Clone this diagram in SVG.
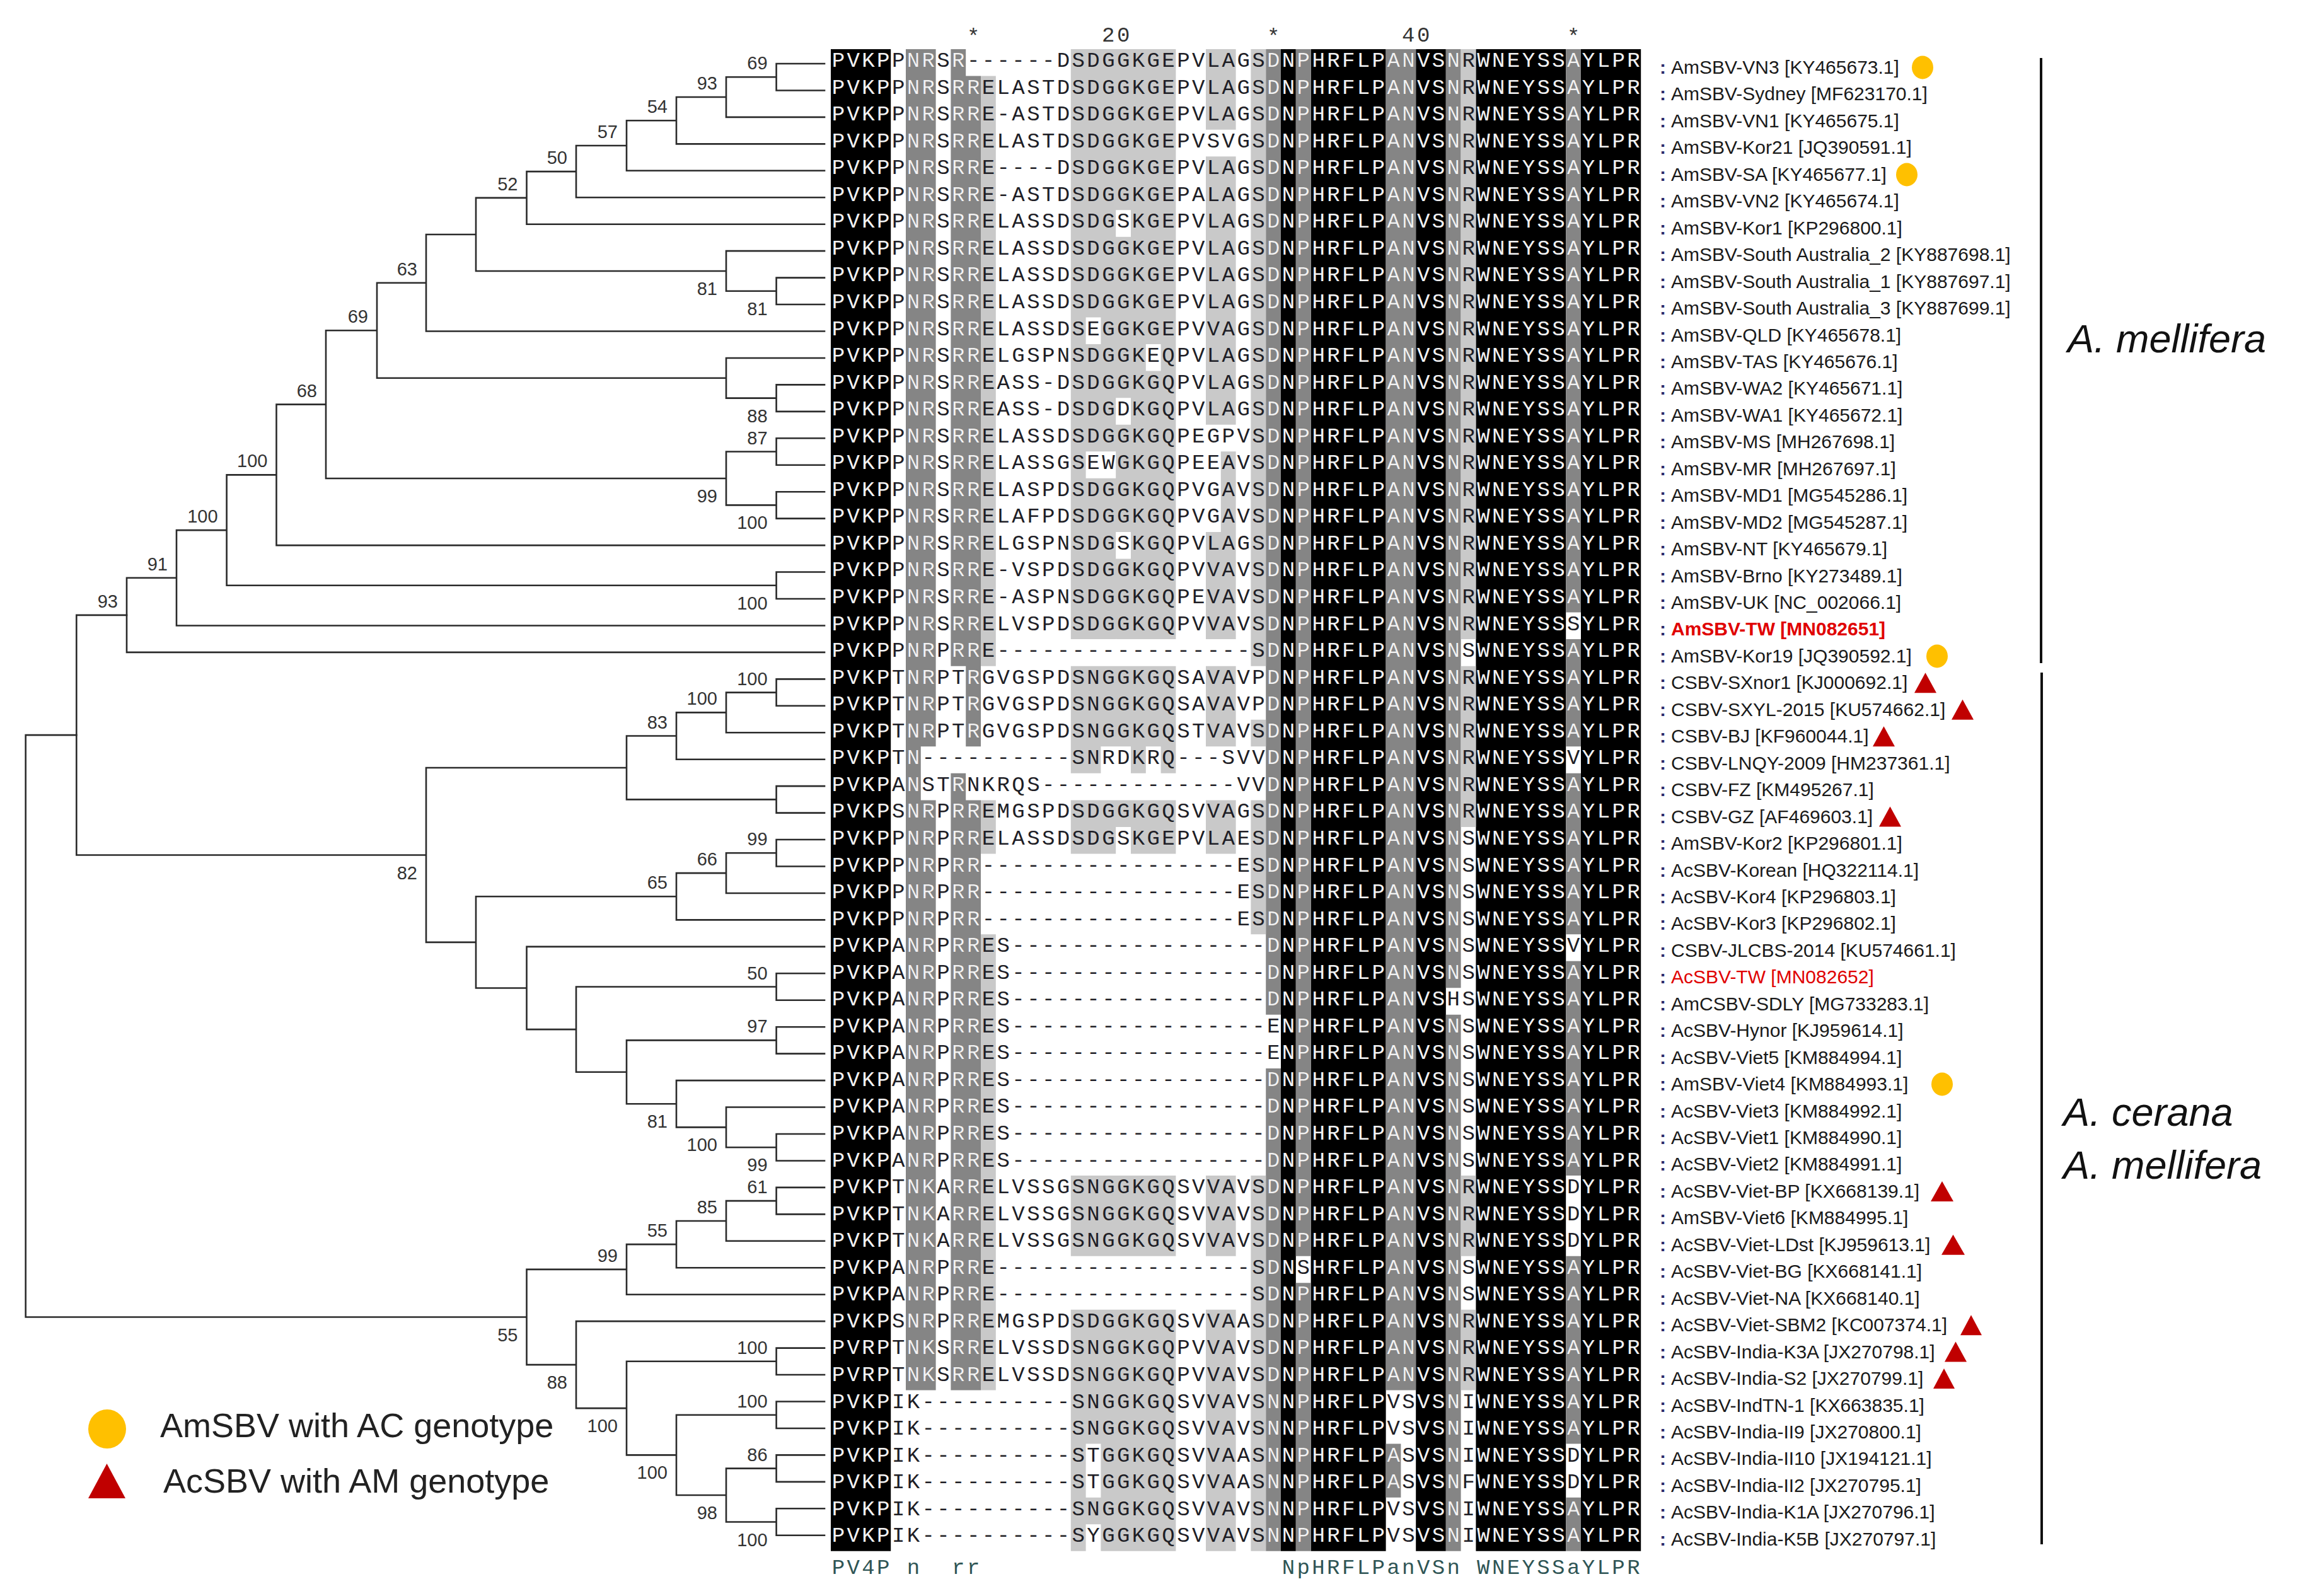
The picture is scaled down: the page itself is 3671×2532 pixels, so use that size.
<svg xmlns="http://www.w3.org/2000/svg" xmlns:xlink="http://www.w3.org/1999/xlink" width="3671" height="2532" viewBox="0 0 3671 2532">
<style>
.tr{fill:none;stroke:#2b2b2b;stroke-width:2.6;stroke-linecap:square}
.bs{font-family:"Liberation Sans",Arial,sans-serif;font-size:29px;fill:#333;text-anchor:end}
.lb{font-family:"Liberation Sans",Arial,sans-serif;font-size:30px;fill:#1a1a1a}
.cl{fill:#2c2f6b;font-weight:bold}
.red{fill:#e00000}
.bd{font-weight:bold}
.sq{font-family:"Liberation Mono","Courier New",monospace;font-size:34px;letter-spacing:3.4px}
.hd{font-family:"Liberation Mono","Courier New",monospace;font-size:34px;letter-spacing:3.4px;fill:#333}
.cs{font-family:"Liberation Mono","Courier New",monospace;font-size:34px;letter-spacing:3.4px;fill:#2f5555}
.sp{font-family:"Liberation Sans",Arial,sans-serif;font-size:63px;font-style:italic;fill:#111}
.lg{font-family:"Liberation Sans",Arial,sans-serif;font-size:54px;fill:#222}
.ci{fill:#FFC000}
.tri{fill:#C00000}
.bar{stroke:#111;stroke-width:4}
</style>
<defs>
<path id="blk" transform="matrix(23.8 0 0 42.55 1318 78)" d="M0 0h4v56h-4z M30 0h1v56h-1z M32 0h5v56h-5z M39 0h2v56h-2z M43 0h6v56h-6z M50 0h4v56h-4z"/>
<path id="dg" transform="matrix(23.8 0 0 42.55 1318 78)" d="M5 0h1v50h-1z M6 0h1v26h-1z M6 28h1v22h-1z M8 0h1v23h-1z M8 27h1v23h-1z M9 1h1v25h-1z M9 28h1v22h-1z M29 0h1v36h-1z M29 38h1v18h-1z M31 0h1v45h-1z M31 46h1v10h-1z M37 0h1v50h-1z M37 52h1v2h-1z M38 0h1v50h-1z M41 0h1v35h-1z M41 36h1v20h-1z M49 0h1v21h-1z M49 22h1v4h-1z M49 27h1v6h-1z M49 34h1v8h-1z M49 45h1v7h-1z M49 54h1v2h-1z"/>
<path id="lgp" transform="matrix(23.8 0 0 42.55 1318 78)" d="M10 1h1v22h-1z M10 28h1v2h-1z M10 33h1v17h-1z M16 0h1v22h-1z M16 23h1v4h-1z M16 28h1v2h-1z M16 42h1v3h-1z M16 47h1v9h-1z M17 0h1v10h-1z M17 11h1v4h-1z M17 16h1v6h-1z M17 23h1v4h-1z M17 28h1v2h-1z M17 42h1v3h-1z M17 47h1v5h-1z M17 54h1v1h-1z M18 0h1v15h-1z M18 16h1v6h-1z M18 23h1v3h-1z M18 28h1v2h-1z M18 42h1v3h-1z M18 47h1v9h-1z M19 0h1v6h-1z M19 7h1v6h-1z M19 14h1v4h-1z M19 19h1v3h-1z M19 23h1v3h-1z M19 28h1v1h-1z M19 42h1v3h-1z M19 47h1v9h-1z M20 0h1v22h-1z M20 23h1v4h-1z M20 28h1v2h-1z M20 42h1v3h-1z M20 47h1v9h-1z M21 0h1v11h-1z M21 12h1v10h-1z M21 23h1v3h-1z M21 28h1v2h-1z M21 42h1v3h-1z M21 47h1v9h-1z M22 0h1v22h-1z M22 23h1v4h-1z M22 28h1v2h-1z M22 42h1v3h-1z M22 47h1v9h-1z M25 0h1v3h-1z M25 4h1v10h-1z M25 18h1v4h-1z M25 23h1v3h-1z M25 28h1v2h-1z M25 42h1v3h-1z M25 47h1v9h-1z M26 0h1v3h-1z M26 4h1v10h-1z M26 15h1v7h-1z M26 23h1v3h-1z M26 28h1v2h-1z M26 42h1v3h-1z M26 47h1v9h-1z M28 0h1v23h-1z M28 25h1v1h-1z M28 28h1v5h-1z M28 42h1v14h-1z M42 0h1v22h-1z M42 23h1v6h-1z M42 42h1v3h-1z M42 47h1v3h-1z"/>
<clipPath id="dk"><use href="#blk"/><use href="#dg"/></clipPath>
<g id="seq" class="sq">
<text x="1319.7" y="106">PVKPPNRSR------DSDGGKGEPVLAGSDNPHRFLPANVSNRWNEYSSAYLPR</text>
<text x="1319.7" y="148.55">PVKPPNRSRRELASTDSDGGKGEPVLAGSDNPHRFLPANVSNRWNEYSSAYLPR</text>
<text x="1319.7" y="191.1">PVKPPNRSRRE-ASTDSDGGKGEPVLAGSDNPHRFLPANVSNRWNEYSSAYLPR</text>
<text x="1319.7" y="233.65">PVKPPNRSRRELASTDSDGGKGEPVSVGSDNPHRFLPANVSNRWNEYSSAYLPR</text>
<text x="1319.7" y="276.2">PVKPPNRSRRE----DSDGGKGEPVLAGSDNPHRFLPANVSNRWNEYSSAYLPR</text>
<text x="1319.7" y="318.75">PVKPPNRSRRE-ASTDSDGGKGEPALAGSDNPHRFLPANVSNRWNEYSSAYLPR</text>
<text x="1319.7" y="361.3">PVKPPNRSRRELASSDSDGSKGEPVLAGSDNPHRFLPANVSNRWNEYSSAYLPR</text>
<text x="1319.7" y="403.85">PVKPPNRSRRELASSDSDGGKGEPVLAGSDNPHRFLPANVSNRWNEYSSAYLPR</text>
<text x="1319.7" y="446.4">PVKPPNRSRRELASSDSDGGKGEPVLAGSDNPHRFLPANVSNRWNEYSSAYLPR</text>
<text x="1319.7" y="488.95">PVKPPNRSRRELASSDSDGGKGEPVLAGSDNPHRFLPANVSNRWNEYSSAYLPR</text>
<text x="1319.7" y="531.5">PVKPPNRSRRELASSDSEGGKGEPVVAGSDNPHRFLPANVSNRWNEYSSAYLPR</text>
<text x="1319.7" y="574.05">PVKPPNRSRRELGSPNSDGGKEQPVLAGSDNPHRFLPANVSNRWNEYSSAYLPR</text>
<text x="1319.7" y="616.6">PVKPPNRSRREASS-DSDGGKGQPVLAGSDNPHRFLPANVSNRWNEYSSAYLPR</text>
<text x="1319.7" y="659.15">PVKPPNRSRREASS-DSDGDKGQPVLAGSDNPHRFLPANVSNRWNEYSSAYLPR</text>
<text x="1319.7" y="701.7">PVKPPNRSRRELASSDSDGGKGQPEGPVSDNPHRFLPANVSNRWNEYSSAYLPR</text>
<text x="1319.7" y="744.25">PVKPPNRSRRELASSGSEWGKGQPEEAVSDNPHRFLPANVSNRWNEYSSAYLPR</text>
<text x="1319.7" y="786.8">PVKPPNRSRRELASPDSDGGKGQPVGAVSDNPHRFLPANVSNRWNEYSSAYLPR</text>
<text x="1319.7" y="829.35">PVKPPNRSRRELAFPDSDGGKGQPVGAVSDNPHRFLPANVSNRWNEYSSAYLPR</text>
<text x="1319.7" y="871.9">PVKPPNRSRRELGSPNSDGSKGQPVLAGSDNPHRFLPANVSNRWNEYSSAYLPR</text>
<text x="1319.7" y="914.45">PVKPPNRSRRE-VSPDSDGGKGQPVVAVSDNPHRFLPANVSNRWNEYSSAYLPR</text>
<text x="1319.7" y="957">PVKPPNRSRRE-ASPNSDGGKGQPEVAVSDNPHRFLPANVSNRWNEYSSAYLPR</text>
<text x="1319.7" y="999.55">PVKPPNRSRRELVSPDSDGGKGQPVVAVSDNPHRFLPANVSNRWNEYSSSYLPR</text>
<text x="1319.7" y="1042.1">PVKPPNRPRRE-----------------SDNPHRFLPANVSNSWNEYSSAYLPR</text>
<text x="1319.7" y="1084.65">PVKPTNRPTRGVGSPDSNGGKGQSAVAVPDNPHRFLPANVSNRWNEYSSAYLPR</text>
<text x="1319.7" y="1127.2">PVKPTNRPTRGVGSPDSNGGKGQSAVAVPDNPHRFLPANVSNRWNEYSSAYLPR</text>
<text x="1319.7" y="1169.75">PVKPTNRPTRGVGSPDSNGGKGQSTVAVSDNPHRFLPANVSNRWNEYSSAYLPR</text>
<text x="1319.7" y="1212.3">PVKPTN----------SNRDKRQ---SVVDNPHRFLPANVSNRWNEYSSVYLPR</text>
<text x="1319.7" y="1254.85">PVKPANSTRNKRQS-------------VVDNPHRFLPANVSNRWNEYSSAYLPR</text>
<text x="1319.7" y="1297.4">PVKPSNRPRREMGSPDSDGGKGQSVVAGSDNPHRFLPANVSNRWNEYSSAYLPR</text>
<text x="1319.7" y="1339.95">PVKPPNRPRRELASSDSDGSKGEPVLAESDNPHRFLPANVSNSWNEYSSAYLPR</text>
<text x="1319.7" y="1382.5">PVKPPNRPRR-----------------ESDNPHRFLPANVSNSWNEYSSAYLPR</text>
<text x="1319.7" y="1425.05">PVKPPNRPRR-----------------ESDNPHRFLPANVSNSWNEYSSAYLPR</text>
<text x="1319.7" y="1467.6">PVKPPNRPRR-----------------ESDNPHRFLPANVSNSWNEYSSAYLPR</text>
<text x="1319.7" y="1510.15">PVKPANRPRRES-----------------DNPHRFLPANVSNSWNEYSSVYLPR</text>
<text x="1319.7" y="1552.7">PVKPANRPRRES-----------------DNPHRFLPANVSNSWNEYSSAYLPR</text>
<text x="1319.7" y="1595.25">PVKPANRPRRES-----------------DNPHRFLPANVSHSWNEYSSAYLPR</text>
<text x="1319.7" y="1637.8">PVKPANRPRRES-----------------ENPHRFLPANVSNSWNEYSSAYLPR</text>
<text x="1319.7" y="1680.35">PVKPANRPRRES-----------------ENPHRFLPANVSNSWNEYSSAYLPR</text>
<text x="1319.7" y="1722.9">PVKPANRPRRES-----------------DNPHRFLPANVSNSWNEYSSAYLPR</text>
<text x="1319.7" y="1765.45">PVKPANRPRRES-----------------DNPHRFLPANVSNSWNEYSSAYLPR</text>
<text x="1319.7" y="1808">PVKPANRPRRES-----------------DNPHRFLPANVSNSWNEYSSAYLPR</text>
<text x="1319.7" y="1850.55">PVKPANRPRRES-----------------DNPHRFLPANVSNSWNEYSSAYLPR</text>
<text x="1319.7" y="1893.1">PVKPTNKARRELVSSGSNGGKGQSVVAVSDNPHRFLPANVSNRWNEYSSDYLPR</text>
<text x="1319.7" y="1935.65">PVKPTNKARRELVSSGSNGGKGQSVVAVSDNPHRFLPANVSNRWNEYSSDYLPR</text>
<text x="1319.7" y="1978.2">PVKPTNKARRELVSSGSNGGKGQSVVAVSDNPHRFLPANVSNRWNEYSSDYLPR</text>
<text x="1319.7" y="2020.75">PVKPANRPRRE-----------------SDNSHRFLPANVSNSWNEYSSAYLPR</text>
<text x="1319.7" y="2063.3">PVKPANRPRRE-----------------SDNPHRFLPANVSNSWNEYSSAYLPR</text>
<text x="1319.7" y="2105.85">PVKPSNRPRREMGSPDSDGGKGQSVVAASDNPHRFLPANVSNRWNEYSSAYLPR</text>
<text x="1319.7" y="2148.4">PVRPTNKSRRELVSSDSNGGKGQPVVAVSDNPHRFLPANVSNRWNEYSSAYLPR</text>
<text x="1319.7" y="2190.95">PVRPTNKSRRELVSSDSNGGKGQPVVAVSDNPHRFLPANVSNRWNEYSSAYLPR</text>
<text x="1319.7" y="2233.5">PVKPIK----------SNGGKGQSVVAVSNNPHRFLPVSVSNIWNEYSSAYLPR</text>
<text x="1319.7" y="2276.05">PVKPIK----------SNGGKGQSVVAVSNNPHRFLPVSVSNIWNEYSSAYLPR</text>
<text x="1319.7" y="2318.6">PVKPIK----------STGGKGQSVVAASNNPHRFLPASVSNIWNEYSSDYLPR</text>
<text x="1319.7" y="2361.15">PVKPIK----------STGGKGQSVVAASNNPHRFLPASVSNFWNEYSSDYLPR</text>
<text x="1319.7" y="2403.7">PVKPIK----------SNGGKGQSVVAVSNNPHRFLPVSVSNIWNEYSSAYLPR</text>
<text x="1319.7" y="2446.25">PVKPIK----------SYGGKGQSVVAVSNNPHRFLPVSVSNIWNEYSSAYLPR</text>
</g>
</defs>
<rect width="3671" height="2532" fill="#fff"/>

<g id="alignment">
<use href="#blk" fill="#000"/>
<use href="#dg" fill="#858585"/>
<use href="#lgp" fill="#c9c9c9"/>
<use href="#seq" fill="#1e1e26"/>
<use href="#seq" fill="#f2f2f2" clip-path="url(#dk)"/>
<g id="ruler">
<text class="hd" x="1533.9" y="68">*</text>
<text class="hd" x="1748.1" y="66">20</text>
<text class="hd" x="2009.9" y="68">*</text>
<text class="hd" x="2224.1" y="66">40</text>
<text class="hd" x="2485.9" y="68">*</text>
</g>
<g id="consensus">
<text class="cs" x="1319.7" y="2497">PV4P</text>
<text class="cs" x="1438.7" y="2497">n</text>
<text class="cs" x="1510.1" y="2497">rr</text>
<text class="cs" x="2033.7" y="2497">NpHRFLPanVSn</text>
<text class="cs" x="2343.1" y="2497">WNEYSSaYLPR</text>
</g>
</g>

<g id="connectors">
<path class="tr" d="M1308 101H1231.6V143.45H1308 M1231.6 122.2H1152V185.9H1308 M1152 154.05H1073V228.35H1308 M1073 191.2H994V270.8H1308 M994 231H914V313.25H1308 M914 272.1H835.5V355.7H1308 M1308 440.6H1231.6V483.05H1308 M1308 398.15H1152V461.8H1231.6 M835.5 313.9H755V430H1152 M755 371.95H676V525.5H1308 M1308 610.4H1231.6V652.85H1308 M1308 567.95H1152V631.6H1231.6 M676 448.7H598V599.8H1152 M1308 695.3H1231.6V737.75H1308 M1308 780.2H1231.6V822.65H1308 M1231.6 716.5H1152V801.4H1231.6 M598 524.25H517V758.95H1152 M517 641.6H438.5V865.1H1308 M1308 907.55H1231.6V950H1308 M438.5 753.35H359.6V928.8H1231.6 M359.6 841.1H280V992.45H1308 M280 916.8H201V1034.9H1308"/>
<path class="tr" d="M1308 1077.35H1231.6V1119.8H1308 M1231.6 1098.6H1152V1162.25H1308 M1152 1130.4H1073V1204.7H1308 M1308 1247.15H1231.6V1289.6H1308 M1073 1167.55H994V1268.4H1231.6 M1308 1332.05H1231.6V1374.5H1308 M1231.6 1353.3H1152V1416.95H1308 M1152 1385.1H1073V1459.4H1308 M1308 1544.3H1231.6V1586.75H1308 M1308 1629.2H1231.6V1671.65H1308 M1308 1799H1231.6V1841.45H1308 M1308 1756.55H1152V1820.2H1231.6 M1308 1714.1H1073V1788.4H1152 M1231.6 1650.4H994V1751.25H1073 M1231.6 1565.5H914V1700.8H994 M1308 1501.85H835.5V1633.15H914 M1073 1422.25H755V1567.5H835.5 M994 1218H676V1494.9H755 M201 975.85H121.3V1356.45H676"/>
<path class="tr" d="M1308 1883.9H1231.6V1926.35H1308 M1231.6 1905.1H1152V1968.8H1308 M1152 1936.95H1073V2011.25H1308 M1073 1974.1H994V2053.7H1308 M1308 2138.6H1231.6V2181.05H1308 M1308 2223.5H1231.6V2265.95H1308 M1308 2308.4H1231.6V2350.85H1308 M1308 2393.3H1231.6V2435.75H1308 M1231.6 2329.6H1152V2414.5H1231.6 M1231.6 2244.7H1073V2372.05H1152 M1231.6 2159.8H994V2308.4H1073 M1308 2096.15H914V2234.1H994 M994 2013.9H835.5V2165.1H914 M121.3 1166.15H40.7V2089.5H835.5"/>
</g>

<g id="bootstrap">
<text class="bs" x="1217.6" y="110.2">69</text>
<text class="bs" x="1138" y="142">93</text>
<text class="bs" x="1059" y="179.2">54</text>
<text class="bs" x="980" y="219">57</text>
<text class="bs" x="900" y="260.1">50</text>
<text class="bs" x="821.5" y="301.9">52</text>
<text class="bs" x="1138" y="468">81</text>
<text class="bs" x="1217.6" y="500">81</text>
<text class="bs" x="662" y="436.7">63</text>
<text class="bs" x="1217.6" y="669.6">88</text>
<text class="bs" x="584" y="512.3">69</text>
<text class="bs" x="1217.6" y="704.5">87</text>
<text class="bs" x="1138" y="797">99</text>
<text class="bs" x="1217.6" y="839.4">100</text>
<text class="bs" x="503" y="629.6">68</text>
<text class="bs" x="424.5" y="741.4">100</text>
<text class="bs" x="345.6" y="829.1">100</text>
<text class="bs" x="1217.6" y="966.8">100</text>
<text class="bs" x="266" y="904.8">91</text>
<text class="bs" x="187" y="963.9">93</text>
<text class="bs" x="1217.6" y="1086.6">100</text>
<text class="bs" x="1138" y="1118.4">100</text>
<text class="bs" x="1059" y="1155.6">83</text>
<text class="bs" x="662" y="1394.5">82</text>
<text class="bs" x="1217.6" y="1341.3">99</text>
<text class="bs" x="1138" y="1373.1">66</text>
<text class="bs" x="1059" y="1410.3">65</text>
<text class="bs" x="1217.6" y="1553.5">50</text>
<text class="bs" x="1217.6" y="1638.4">97</text>
<text class="bs" x="1059" y="1789.3">81</text>
<text class="bs" x="1138" y="1826.4">100</text>
<text class="bs" x="1217.6" y="1858.2">99</text>
<text class="bs" x="1217.6" y="1893.1">61</text>
<text class="bs" x="1138" y="1925">85</text>
<text class="bs" x="1059" y="1962.1">55</text>
<text class="bs" x="980" y="2001.9">99</text>
<text class="bs" x="821.5" y="2127.5">55</text>
<text class="bs" x="900" y="2203.1">88</text>
<text class="bs" x="1217.6" y="2147.8">100</text>
<text class="bs" x="980" y="2272.1">100</text>
<text class="bs" x="1217.6" y="2232.7">100</text>
<text class="bs" x="1059" y="2346.4">100</text>
<text class="bs" x="1217.6" y="2317.6">86</text>
<text class="bs" x="1138" y="2410">98</text>
<text class="bs" x="1217.6" y="2452.5">100</text>
</g>

<g id="labels" class="lb">
<text id="t1" x="2633" y="117"><tspan class="cl">:</tspan><tspan x="2651">AmSBV-VN3 [KY465673.1]</tspan></text>
<text id="t2" x="2633" y="159.45"><tspan class="cl">:</tspan><tspan x="2651">AmSBV-Sydney [MF623170.1]</tspan></text>
<text id="t3" x="2633" y="201.9"><tspan class="cl">:</tspan><tspan x="2651">AmSBV-VN1 [KY465675.1]</tspan></text>
<text id="t4" x="2633" y="244.35"><tspan class="cl">:</tspan><tspan x="2651">AmSBV-Kor21 [JQ390591.1]</tspan></text>
<text id="t5" x="2633" y="286.8"><tspan class="cl">:</tspan><tspan x="2651">AmSBV-SA [KY465677.1]</tspan></text>
<text id="t6" x="2633" y="329.25"><tspan class="cl">:</tspan><tspan x="2651">AmSBV-VN2 [KY465674.1]</tspan></text>
<text id="t7" x="2633" y="371.7"><tspan class="cl">:</tspan><tspan x="2651">AmSBV-Kor1 [KP296800.1]</tspan></text>
<text id="t8" x="2633" y="414.15"><tspan class="cl">:</tspan><tspan x="2651">AmSBV-South Australia_2 [KY887698.1]</tspan></text>
<text id="t9" x="2633" y="456.6"><tspan class="cl">:</tspan><tspan x="2651">AmSBV-South Australia_1 [KY887697.1]</tspan></text>
<text id="t10" x="2633" y="499.05"><tspan class="cl">:</tspan><tspan x="2651">AmSBV-South Australia_3 [KY887699.1]</tspan></text>
<text id="t11" x="2633" y="541.5"><tspan class="cl">:</tspan><tspan x="2651">AmSBV-QLD [KY465678.1]</tspan></text>
<text id="t12" x="2633" y="583.95"><tspan class="cl">:</tspan><tspan x="2651">AmSBV-TAS [KY465676.1]</tspan></text>
<text id="t13" x="2633" y="626.4"><tspan class="cl">:</tspan><tspan x="2651">AmSBV-WA2 [KY465671.1]</tspan></text>
<text id="t14" x="2633" y="668.85"><tspan class="cl">:</tspan><tspan x="2651">AmSBV-WA1 [KY465672.1]</tspan></text>
<text id="t15" x="2633" y="711.3"><tspan class="cl">:</tspan><tspan x="2651">AmSBV-MS [MH267698.1]</tspan></text>
<text id="t16" x="2633" y="753.75"><tspan class="cl">:</tspan><tspan x="2651">AmSBV-MR [MH267697.1]</tspan></text>
<text id="t17" x="2633" y="796.2"><tspan class="cl">:</tspan><tspan x="2651">AmSBV-MD1 [MG545286.1]</tspan></text>
<text id="t18" x="2633" y="838.65"><tspan class="cl">:</tspan><tspan x="2651">AmSBV-MD2 [MG545287.1]</tspan></text>
<text id="t19" x="2633" y="881.1"><tspan class="cl">:</tspan><tspan x="2651">AmSBV-NT [KY465679.1]</tspan></text>
<text id="t20" x="2633" y="923.55"><tspan class="cl">:</tspan><tspan x="2651">AmSBV-Brno [KY273489.1]</tspan></text>
<text id="t21" x="2633" y="966"><tspan class="cl">:</tspan><tspan x="2651">AmSBV-UK [NC_002066.1]</tspan></text>
<text id="t22" x="2633" y="1008.45"><tspan class="cl">:</tspan><tspan x="2651" class="red bd">AmSBV-TW [MN082651]</tspan></text>
<text id="t23" x="2633" y="1050.9"><tspan class="cl">:</tspan><tspan x="2651">AmSBV-Kor19 [JQ390592.1]</tspan></text>
<text id="t24" x="2633" y="1093.35"><tspan class="cl">:</tspan><tspan x="2651">CSBV-SXnor1 [KJ000692.1]</tspan></text>
<text id="t25" x="2633" y="1135.8"><tspan class="cl">:</tspan><tspan x="2651">CSBV-SXYL-2015 [KU574662.1]</tspan></text>
<text id="t26" x="2633" y="1178.25"><tspan class="cl">:</tspan><tspan x="2651">CSBV-BJ [KF960044.1]</tspan></text>
<text id="t27" x="2633" y="1220.7"><tspan class="cl">:</tspan><tspan x="2651">CSBV-LNQY-2009 [HM237361.1]</tspan></text>
<text id="t28" x="2633" y="1263.15"><tspan class="cl">:</tspan><tspan x="2651">CSBV-FZ [KM495267.1]</tspan></text>
<text id="t29" x="2633" y="1305.6"><tspan class="cl">:</tspan><tspan x="2651">CSBV-GZ [AF469603.1]</tspan></text>
<text id="t30" x="2633" y="1348.05"><tspan class="cl">:</tspan><tspan x="2651">AmSBV-Kor2 [KP296801.1]</tspan></text>
<text id="t31" x="2633" y="1390.5"><tspan class="cl">:</tspan><tspan x="2651">AcSBV-Korean [HQ322114.1]</tspan></text>
<text id="t32" x="2633" y="1432.95"><tspan class="cl">:</tspan><tspan x="2651">AcSBV-Kor4 [KP296803.1]</tspan></text>
<text id="t33" x="2633" y="1475.4"><tspan class="cl">:</tspan><tspan x="2651">AcSBV-Kor3 [KP296802.1]</tspan></text>
<text id="t34" x="2633" y="1517.85"><tspan class="cl">:</tspan><tspan x="2651">CSBV-JLCBS-2014 [KU574661.1]</tspan></text>
<text id="t35" x="2633" y="1560.3"><tspan class="cl">:</tspan><tspan x="2651" class="red">AcSBV-TW [MN082652]</tspan></text>
<text id="t36" x="2633" y="1602.75"><tspan class="cl">:</tspan><tspan x="2651">AmCSBV-SDLY [MG733283.1]</tspan></text>
<text id="t37" x="2633" y="1645.2"><tspan class="cl">:</tspan><tspan x="2651">AcSBV-Hynor [KJ959614.1]</tspan></text>
<text id="t38" x="2633" y="1687.65"><tspan class="cl">:</tspan><tspan x="2651">AcSBV-Viet5 [KM884994.1]</tspan></text>
<text id="t39" x="2633" y="1730.1"><tspan class="cl">:</tspan><tspan x="2651">AmSBV-Viet4 [KM884993.1]</tspan></text>
<text id="t40" x="2633" y="1772.55"><tspan class="cl">:</tspan><tspan x="2651">AcSBV-Viet3 [KM884992.1]</tspan></text>
<text id="t41" x="2633" y="1815"><tspan class="cl">:</tspan><tspan x="2651">AcSBV-Viet1 [KM884990.1]</tspan></text>
<text id="t42" x="2633" y="1857.45"><tspan class="cl">:</tspan><tspan x="2651">AcSBV-Viet2 [KM884991.1]</tspan></text>
<text id="t43" x="2633" y="1899.9"><tspan class="cl">:</tspan><tspan x="2651">AcSBV-Viet-BP [KX668139.1]</tspan></text>
<text id="t44" x="2633" y="1942.35"><tspan class="cl">:</tspan><tspan x="2651">AmSBV-Viet6 [KM884995.1]</tspan></text>
<text id="t45" x="2633" y="1984.8"><tspan class="cl">:</tspan><tspan x="2651">AcSBV-Viet-LDst [KJ959613.1]</tspan></text>
<text id="t46" x="2633" y="2027.25"><tspan class="cl">:</tspan><tspan x="2651">AcSBV-Viet-BG [KX668141.1]</tspan></text>
<text id="t47" x="2633" y="2069.7"><tspan class="cl">:</tspan><tspan x="2651">AcSBV-Viet-NA [KX668140.1]</tspan></text>
<text id="t48" x="2633" y="2112.15"><tspan class="cl">:</tspan><tspan x="2651">AcSBV-Viet-SBM2 [KC007374.1]</tspan></text>
<text id="t49" x="2633" y="2154.6"><tspan class="cl">:</tspan><tspan x="2651">AcSBV-India-K3A [JX270798.1]</tspan></text>
<text id="t50" x="2633" y="2197.05"><tspan class="cl">:</tspan><tspan x="2651">AcSBV-India-S2 [JX270799.1]</tspan></text>
<text id="t51" x="2633" y="2239.5"><tspan class="cl">:</tspan><tspan x="2651">AcSBV-IndTN-1 [KX663835.1]</tspan></text>
<text id="t52" x="2633" y="2281.95"><tspan class="cl">:</tspan><tspan x="2651">AcSBV-India-II9 [JX270800.1]</tspan></text>
<text id="t53" x="2633" y="2324.4"><tspan class="cl">:</tspan><tspan x="2651">AcSBV-India-II10 [JX194121.1]</tspan></text>
<text id="t54" x="2633" y="2366.85"><tspan class="cl">:</tspan><tspan x="2651">AcSBV-India-II2 [JX270795.1]</tspan></text>
<text id="t55" x="2633" y="2409.3"><tspan class="cl">:</tspan><tspan x="2651">AcSBV-India-K1A [JX270796.1]</tspan></text>
<text id="t56" x="2633" y="2451.75"><tspan class="cl">:</tspan><tspan x="2651">AcSBV-India-K5B [JX270797.1]</tspan></text>
</g>

<g id="markers">
<ellipse class="ci" cx="3050" cy="107" rx="17" ry="18.5"/>
<ellipse class="ci" cx="3025" cy="277" rx="17" ry="18.5"/>
<ellipse class="ci" cx="3073" cy="1041" rx="17" ry="18.5"/>
<ellipse class="ci" cx="3081" cy="1720" rx="17" ry="18.5"/>
<polygon class="tri" points="3037,1099.35 3072,1099.35 3054.5,1067.35"/>
<polygon class="tri" points="3096,1141.8 3131,1141.8 3113.5,1109.8"/>
<polygon class="tri" points="2971,1184.25 3006,1184.25 2988.5,1152.25"/>
<polygon class="tri" points="2981,1311.6 3016,1311.6 2998.5,1279.6"/>
<polygon class="tri" points="3063,1905.9 3099,1905.9 3081,1873.9"/>
<polygon class="tri" points="3080,1990.8 3117,1990.8 3098.5,1958.8"/>
<polygon class="tri" points="3110,2118.15 3144,2118.15 3127,2086.15"/>
<polygon class="tri" points="3085,2160.6 3120,2160.6 3102.5,2128.6"/>
<polygon class="tri" points="3067,2203.05 3101,2203.05 3084,2171.05"/>
</g>

<g id="groups">
<line class="bar" x1="3238" y1="92" x2="3238" y2="1052"/>
<line class="bar" x1="3239" y1="1067" x2="3239" y2="2450"/>
<text class="sp" x="3280" y="559">A. mellifera</text>
<text class="sp" x="3273" y="1786">A. cerana</text>
<text class="sp" x="3273" y="1870">A. mellifera</text>
</g>

<g id="legend">
<ellipse class="ci" cx="170" cy="2267" rx="30" ry="31"/>
<text class="lg" x="254" y="2280">AmSBV with AC genotype</text>
<polygon class="tri" points="140,2377 199,2377 169.5,2322"/>
<text class="lg" x="259" y="2368">AcSBV with AM genotype</text>
</g>
</svg>
